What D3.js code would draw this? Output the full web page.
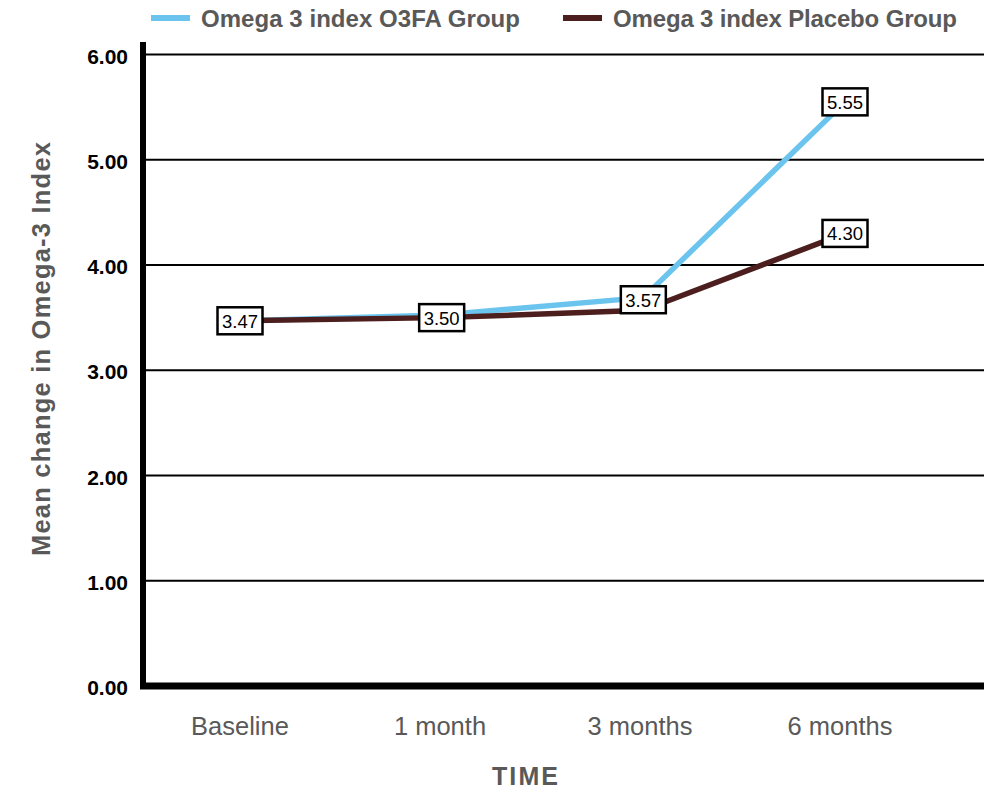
<!DOCTYPE html>
<html><head><meta charset="utf-8">
<script src="https://cdn.jsdelivr.net/npm/d3@7"></script>
<style>body{margin:0;background:#fff}svg{display:block}</style>
</head><body>
<svg id="c" width="984" height="792"></svg>
<script>
const categories = ["Baseline", "1 month", "3 months", "6 months"];
const o3faValues = [3.47, 3.525, 3.69, 5.55];
const placeboValues = [3.47, 3.50, 3.57, 4.30];
const yTicks = [0, 1, 2, 3, 4, 5, 6];
const labelValues = [3.47, 3.50, 3.57, 5.55, 4.30];
const labelIndex = [0, 1, 2, 3, 3];
const labelPos = [3.47, 3.50, 3.67, 5.55, 4.30];
const seriesNames = ["Omega 3 index O3FA Group", "Omega 3 index Placebo Group"];
const colors = ["#6BC4EE", "#4D1E1E"];
const FONT = "Liberation Sans, Arial, Helvetica, sans-serif";

const svg = d3.select("#c");
const x = d3.scalePoint().domain(categories).range([240, 845]);
const xLab = d3.scalePoint().domain(categories).range([240, 840]);
const y = d3.scaleLinear().domain([0, 6]).range([686, 54.5]);

// grid
svg.append("g").selectAll("line").data(yTicks.filter(d => d > 0)).join("line")
  .attr("x1", 143).attr("x2", 984).attr("y1", d => y(d)).attr("y2", d => y(d))
  .attr("stroke", "#000").attr("stroke-width", 2);

// y tick labels
svg.append("g").selectAll("text").data(yTicks).join("text")
  .attr("x", 128).attr("y", d => y(d) + 9)
  .attr("text-anchor", "end").attr("font-family", FONT)
  .attr("font-weight", "bold").attr("font-size", 21).attr("fill", "#000")
  .text(d => d.toFixed(2));

// axes
svg.append("line").attr("x1", 143).attr("x2", 143).attr("y1", 42).attr("y2", 689)
  .attr("stroke", "#000").attr("stroke-width", 6);
svg.append("line").attr("x1", 140).attr("x2", 984).attr("y1", y(0)).attr("y2", y(0))
  .attr("stroke", "#000").attr("stroke-width", 7);

// x labels
svg.append("g").selectAll("text").data(categories).join("text")
  .attr("x", d => xLab(d)).attr("y", 735).attr("text-anchor", "middle")
  .attr("font-family", FONT).attr("font-size", 25.5)
  .attr("fill", "#595959").text(d => d);

svg.append("text").attr("x", 525).attr("y", 785).attr("text-anchor", "middle")
  .attr("font-family", FONT).attr("font-weight", "bold")
  .attr("font-size", 25).attr("fill", "#595959")
  .attr("textLength", 66).attr("lengthAdjust", "spacing").text("TIME");

svg.append("text").attr("transform", "translate(50,349) rotate(-90)").attr("text-anchor", "middle")
  .attr("font-family", FONT).attr("font-weight", "bold")
  .attr("font-size", 25.5).attr("fill", "#595959")
  .attr("textLength", 414).attr("lengthAdjust", "spacing").text("Mean change in Omega-3 Index");

// lines
const line = d3.line().x((d, i) => x(categories[i])).y(d => y(d));
[o3faValues, placeboValues].forEach((vals, k) => {
  svg.append("path").attr("d", line(vals)).attr("fill", "none")
    .attr("stroke", colors[k]).attr("stroke-width", 5.5).attr("stroke-linejoin", "round");
});

// data labels
const lg = svg.append("g");
labelValues.forEach((v, i) => {
  const cx = x(categories[labelIndex[i]]);
  const cy = y(labelPos[i]);
  const g = lg.append("g");
  const w = 45, h = 27;
  g.append("rect").attr("x", cx - w / 2).attr("y", cy - h / 2).attr("width", w).attr("height", h)
    .attr("fill", "#fff").attr("stroke", "#000").attr("stroke-width", 2.5);
  g.append("text").attr("x", cx).attr("y", cy + 7)
    .attr("text-anchor", "middle").attr("font-family", FONT)
    .attr("font-size", 18.5).attr("fill", "#000").text(v.toFixed(2));
});

// legend
const legX = [151, 563], txtX = [201, 613], txtW = [319, 344];
seriesNames.forEach((n, k) => {
  svg.append("line").attr("x1", legX[k]).attr("x2", legX[k] + 39).attr("y1", 18).attr("y2", 18)
    .attr("stroke", colors[k]).attr("stroke-width", 6);
  svg.append("text").attr("x", txtX[k]).attr("y", 27).attr("font-family", FONT)
    .attr("font-weight", "bold").attr("font-size", 24).attr("fill", "#595959")
    .attr("textLength", txtW[k]).attr("lengthAdjust", "spacing").text(n);
});
</script>
</body></html>
